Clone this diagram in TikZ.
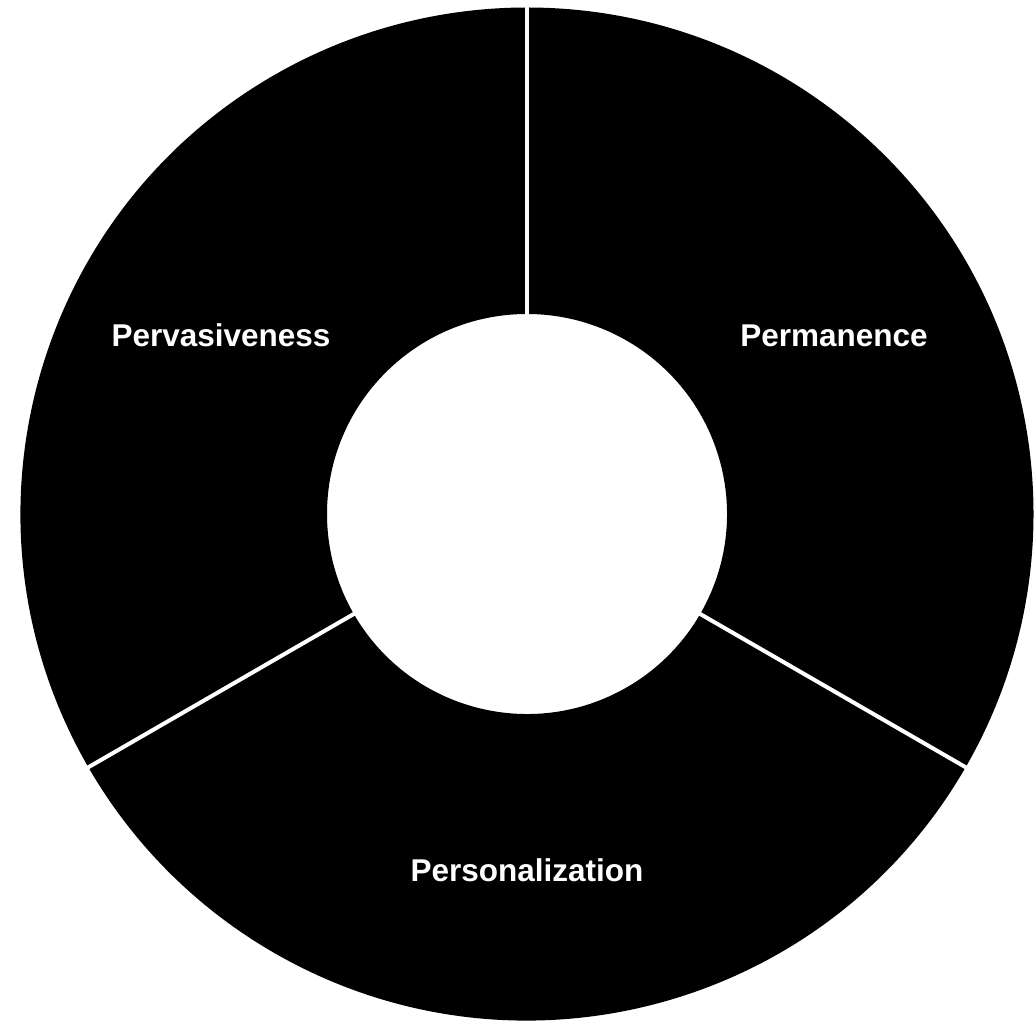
\documentclass[tikz,border=0pt]{standalone}
\usepackage{fontspec}
\setmainfont{Liberation Sans}
\begin{document}
\begin{tikzpicture}[x=1pt,y=1pt,
  sector/.style={fill=black},
  separator/.style={draw=white,line width=4pt},
  lbl/.style={text=white,font=\bfseries\fontsize{31.5}{36}\selectfont,inner sep=0pt,anchor=base}]
\useasboundingbox (0,0) rectangle (1035,1021);
\fill[white] (0,0) rectangle (1035,1021);
\coordinate (c) at (527,507);
\def\Ro{506.5}
\def\Ri{200}
% sectors
\fill[sector] ([shift={(90:\Ro)}]c) arc[start angle=90,end angle=-30,radius=\Ro]
  -- ([shift={(-30:\Ri)}]c) arc[start angle=-30,end angle=90,radius=\Ri] -- cycle;
\fill[sector] ([shift={(-30:\Ro)}]c) arc[start angle=-30,end angle=-150,radius=\Ro]
  -- ([shift={(-150:\Ri)}]c) arc[start angle=-150,end angle=-30,radius=\Ri] -- cycle;
\fill[sector] ([shift={(210:\Ro)}]c) arc[start angle=210,end angle=90,radius=\Ro]
  -- ([shift={(90:\Ri)}]c) arc[start angle=90,end angle=210,radius=\Ri] -- cycle;
% separators
\foreach \a in {90,-30,210}
  \draw[separator] ([shift={(\a:\Ri-1)}]c) -- ([shift={(\a:\Ro+2)}]c);
% labels
\node[lbl] (perv) at (221,674) {Pervasiveness};
\node[lbl] (perm) at (834,674) {Permanence};
\node[lbl] (pers) at (527,140) {Personalization};
\end{tikzpicture}
\end{document}
